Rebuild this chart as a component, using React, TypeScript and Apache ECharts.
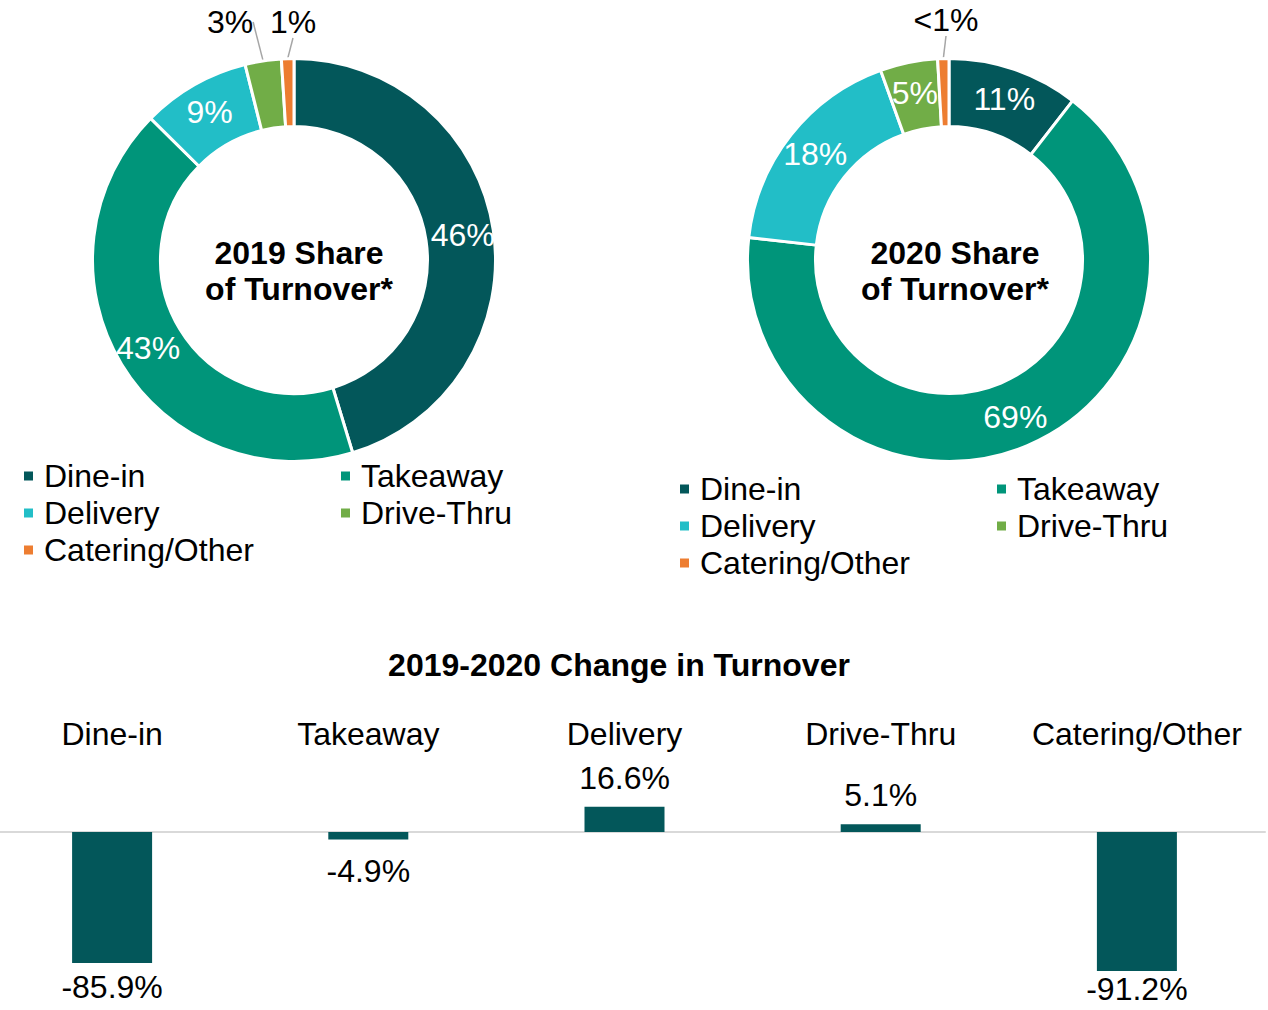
import React, { useEffect, useRef } from "react";
import * as echarts from "echarts";

const categories = ["Dine-in", "Takeaway", "Delivery", "Drive-Thru", "Catering/Other"];
const colors = ["#03575A", "#00957A", "#22BEC7", "#71AD47", "#ED7D31"];
const share2019 = [45.3, 42.1, 8.7, 2.9, 1.0];
const labels2019 = ["46%", "43%", "9%", "3%", "1%"];
const share2020 = [10.5, 66.2, 17.7, 4.6, 0.9];
const labels2020 = ["11%", "69%", "18%", "5%", "<1%"];
const change = [-85.9, -4.9, 16.6, 5.1, -91.2];

const FONT = "'Liberation Sans', Arial, sans-serif";
const FS = 32;

function pieData(values: number[], labels: string[], outsideIdx: number[]) {
  return values.map((v, i) => {
    const outside = outsideIdx.includes(i);
    return {
      name: categories[i],
      value: v,
      itemStyle: { color: colors[i] },
      label: outside
        ? { position: "outside", color: "#000", formatter: labels[i] }
        : { position: "inside", color: "#fff", formatter: labels[i] },
      labelLine: outside
        ? { show: true, length: 12, length2: 0, lineStyle: { color: "#A6A6A6", width: 1.5 } }
        : { show: false },
    };
  });
}

export default function App() {
  const ref = useRef<HTMLDivElement>(null);
  useEffect(() => {
    const chart = echarts.init(ref.current!, undefined, { renderer: "svg" });
    const legendBase = {
      orient: "vertical",
      icon: "rect",
      itemWidth: 11,
      itemHeight: 11,
      itemGap: 4,
      padding: 0,
      selectedMode: false,
      textStyle: { fontSize: FS, color: "#000", fontFamily: FONT, lineHeight: 33, padding: [0, 0, 0, 5] },
    };
    const pieBase = {
      type: "pie",
      radius: [133.5, 201.5],
      startAngle: 90,
      clockwise: true,
      avoidLabelOverlap: false,
      emphasis: { disabled: true },
      itemStyle: { borderColor: "#fff", borderWidth: 3 },
      label: { fontSize: FS, fontFamily: FONT },
    };
    const centerStyle = {
      font: `bold ${FS}px ${FONT}`,
      fill: "#000",
      textAlign: "center",
      textVerticalAlign: "middle",
      lineHeight: 36,
    };
    const option: any = {
      animation: false,
      textStyle: { fontFamily: FONT },
      legend: [
        { ...legendBase, left: 22, top: 459.5, data: ["Dine-in", "Delivery", "Catering/Other"] },
        { ...legendBase, left: 339, top: 459.5, data: ["Takeaway", "Drive-Thru"] },
        { ...legendBase, left: 678, top: 472.5, data: ["Dine-in", "Delivery", "Catering/Other"] },
        { ...legendBase, left: 995, top: 472.5, data: ["Takeaway", "Drive-Thru"] },
      ],
      graphic: [
        { type: "text", x: 299, y: 271, style: { ...centerStyle, text: "2019 Share\nof Turnover*" } },
        { type: "text", x: 955, y: 271, style: { ...centerStyle, text: "2020 Share\nof Turnover*" } },
        {
          type: "text",
          x: 619,
          y: 665,
          style: { ...centerStyle, text: "2019-2020 Change in Turnover" },
        },
      ],
      grid: { left: -16, right: 3, top: 801.5, bottom: 25.5, containLabel: false, outerBoundsMode: "none" },
      xAxis: [
        {
          type: "category",
          data: categories,
          position: "bottom",
          axisLine: { onZero: true, lineStyle: { color: "#D9D9D9", width: 2 } },
          axisTick: { show: false },
          axisLabel: { show: false },
        },
        {
          type: "category",
          data: categories,
          position: "top",
          axisLine: { show: false },
          axisTick: { show: false },
          axisLabel: { show: true, fontSize: FS, color: "#000", fontFamily: FONT, margin: 52, interval: 0 },
        },
      ],
      yAxis: {
        type: "value",
        min: -100,
        max: 20,
        show: false,
        splitLine: { show: false },
      },
      series: [
        {
          ...pieBase,
          name: "2019",
          center: [294, 260],
          data: pieData(share2019, labels2019, [3, 4]),
          labelLayout: (p: any) => {
            if (p.dataIndex === 3) return { x: 230, y: 22, align: "center", verticalAlign: "middle" };
            if (p.dataIndex === 4) return { x: 293, y: 22, align: "center", verticalAlign: "middle" };
            return {};
          },
        },
        {
          ...pieBase,
          name: "2020",
          center: [949, 260],
          data: pieData(share2020, labels2020, [4]),
          labelLayout: (p: any) => {
            if (p.dataIndex === 4) return { x: 946, y: 20, align: "center", verticalAlign: "middle" };
            return {};
          },
        },
        {
          type: "bar",
          name: "Change",
          xAxisIndex: 0,
          barWidth: 80,
          itemStyle: { color: "#03575A" },
          emphasis: { disabled: true },
          data: change.map((v) => ({
            value: v,
            label: {
              show: true,
              position: v < 0 ? "bottom" : "top",
              distance: v < -90 ? 2 : v < -50 ? 8 : v < 0 ? 16 : 13,
              fontSize: FS,
              color: "#000",
              fontFamily: FONT,
              formatter: (p: any) => p.value.toFixed(1) + "%",
            },
          })),
        },
      ],
    };
    chart.setOption(option);
    return () => chart.dispose();
  }, []);
  return (
    <div
      ref={ref}
      style={{ position: "absolute", left: 0, top: 0, width: 1268, height: 1010, background: "#fff" }}
    />
  );
}
